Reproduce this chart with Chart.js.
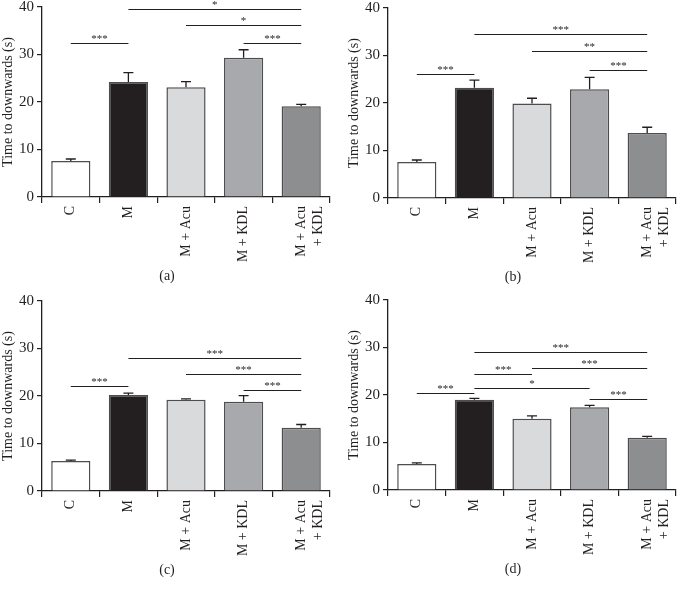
<!DOCTYPE html>
<html>
<head>
<meta charset="utf-8">
<script src="https://cdn.jsdelivr.net/npm/chart.js@4"></script>
<style>
  body { margin: 0; background: #fff; width: 679px; height: 589px; position: relative; overflow: hidden; }
  .panel { position: absolute; width: 340px; height: 290px; }
</style>
</head>
<body>
<div class="panel" style="left:0px;top:-5px"><canvas id="chartA"></canvas></div>
<div class="panel" style="left:346px;top:-4px"><canvas id="chartB"></canvas></div>
<div class="panel" style="left:0px;top:289px"><canvas id="chartC"></canvas></div>
<div class="panel" style="left:346px;top:288px"><canvas id="chartD"></canvas></div>
<script>
var categories = ["C", "M", "M + Acu", "M + KDL", ["M + Acu", "+ KDL"]];
var barColors = ["#ffffff", "#231f20", "#d9dadb", "#a8a9ac", "#8d8e90"];

var meansA = [7.6, 24.2, 23.1, 29.3, 19.1];
var errTopA = [8.0, 26.2, 24.3, 31.0, 19.5];
var meansB = [7.6, 23.2, 19.9, 22.9, 13.7];
var errTopB = [8.0, 24.8, 21.0, 25.4, 14.9];
var meansC = [6.3, 20.2, 19.2, 18.8, 13.3];
var errTopC = [6.5, 20.6, 19.4, 20.1, 14.0];
var meansD = [5.5, 19.0, 15.0, 17.4, 11.0];
var errTopD = [5.7, 19.3, 15.6, 17.8, 11.3];

// significance brackets: [from category, to category, height, label]
var sigA = [[0, 1, 32.5, "***"], [1, 4, 39.6, "*"], [2, 4, 36.2, "*"], [3, 4, 32.5, "***"]];
var sigB = [[0, 1, 26.2, "***"], [1, 4, 34.6, "***"], [2, 4, 30.9, "**"], [3, 4, 26.9, "***"]];
var sigC = [[0, 1, 22.0, "***"], [1, 4, 27.9, "***"], [2, 4, 24.6, "***"], [3, 4, 21.3, "***"]];
var sigD = [[0, 1, 20.4, "***"], [1, 4, 29.1, "***"], [1, 2, 24.5, "***"], [2, 4, 25.6, "***"], [1, 3, 21.5, "*"], [3, 4, 19.2, "***"]];

var serif = "'Liberation Serif', 'DejaVu Serif', serif";

var extrasPlugin = {
    id: 'extras',
    afterDatasetsDraw: function(chart, args, opts) {
        var ctx = chart.ctx;
        var y = chart.scales.y;
        var bars = chart.getDatasetMeta(0).data;
        ctx.save();
        // error bars (upper only)
        ctx.strokeStyle = "#231f20";
        ctx.lineWidth = 1.3;
        opts.errTop.forEach(function(v, i) {
            var x = bars[i].x;
            var y0 = y.getPixelForValue(chart.data.datasets[0].data[i]);
            var y1 = y.getPixelForValue(v);
            ctx.beginPath();
            ctx.moveTo(x, y0);
            ctx.lineTo(x, y1);
            ctx.moveTo(x - 5, y1);
            ctx.lineTo(x + 5, y1);
            ctx.stroke();
        });
        // significance lines
        ctx.fillStyle = "#231f20";
        ctx.font = "11px " + serif;
        ctx.textAlign = "center";
        ctx.textBaseline = "bottom";
        opts.sig.forEach(function(s) {
            var xa = bars[s[0]].x, xb = bars[s[1]].x;
            var yy = Math.round(y.getPixelForValue(s[2])) + 0.5;
            ctx.lineWidth = 1.2;
            ctx.beginPath();
            ctx.moveTo(xa, yy);
            ctx.lineTo(xb, yy);
            ctx.stroke();
            ctx.fillText(s[3], (xa + xb) / 2, yy + 1);
        });
        // panel caption
        ctx.font = "14px " + serif;
        ctx.textBaseline = "middle";
        ctx.fillText(opts.caption, 167, 281);
        ctx.restore();
    }
};

function makeChart(id, means, errTop, sig, caption) {
    return new Chart(document.getElementById(id), {
        type: 'bar',
        data: {
            labels: categories,
            datasets: [{
                data: means,
                backgroundColor: barColors,
                borderColor: "#4d4d4f",
                borderWidth: 1.5,
                borderSkipped: 'bottom',
                categoryPercentage: 1,
                barPercentage: 0.68
            }]
        },
        options: {
            responsive: false,
            animation: false,
            layout: { padding: { top: 0, right: 10, left: 0, bottom: 0 } },
            plugins: {
                legend: { display: false },
                tooltip: { enabled: false },
                extras: { errTop: errTop, sig: sig, caption: caption }
            },
            scales: {
                x: {
                    grid: { display: true, drawOnChartArea: false, tickLength: 6, color: "#231f20", lineWidth: 1.2 },
                    border: { display: true, color: "#231f20", width: 1.3 },
                    ticks: {
                        color: "#231f20",
                        font: { family: serif, size: 14 },
                        minRotation: 90,
                        maxRotation: 90,
                        padding: 3
                    },
                    afterFit: function(scale) { scale.height = 88; }
                },
                y: {
                    min: 0,
                    max: 40,
                    grid: { display: true, drawOnChartArea: false, tickLength: 5, color: "#231f20", lineWidth: 1.2 },
                    border: { display: true, color: "#231f20", width: 1.3 },
                    ticks: {
                        stepSize: 10,
                        color: "#231f20",
                        font: { family: serif, size: 15 },
                        padding: 3
                    },
                    title: {
                        display: true,
                        text: "Time to downwards (s)",
                        color: "#231f20",
                        font: { family: serif, size: 14 },
                        padding: { top: 0, bottom: 1 }
                    },
                    afterFit: function(scale) { scale.width = 42; }
                }
            }
        },
        plugins: [extrasPlugin]
    });
}

document.querySelectorAll('canvas').forEach(function(c) { c.width = 340; c.height = 290; });
makeChart("chartA", meansA, errTopA, sigA, "(a)");
makeChart("chartB", meansB, errTopB, sigB, "(b)");
makeChart("chartC", meansC, errTopC, sigC, "(c)");
makeChart("chartD", meansD, errTopD, sigD, "(d)");
</script>
</body>
</html>
